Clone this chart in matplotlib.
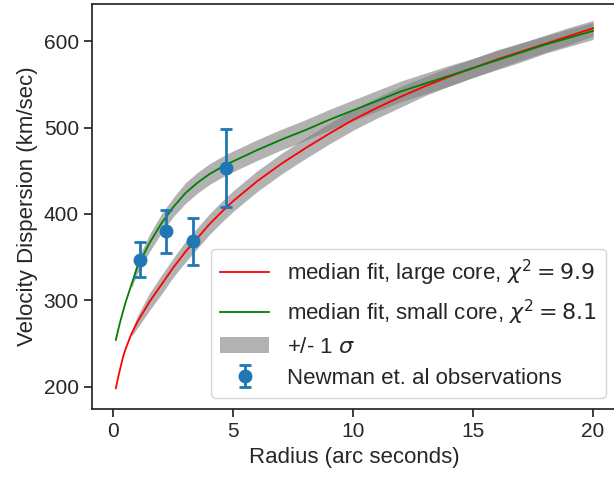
import numpy as np
import matplotlib
matplotlib.use("Agg")
import matplotlib.pyplot as plt


# ---------------------------------------------------------------------------
# Data

# model radius grid (arc seconds)
radius = [0.1, 0.2, 0.3, 0.4, 0.5, 0.75, 1, 1.5, 2, 2.5, 3, 3.5, 4, 4.5, 5, 6, 7, 8, 9,
          10, 11, 12, 13, 14, 15, 16, 17, 18, 19, 20]

# median fits (km/sec)
sig_large = [198, 211, 223, 234, 243, 261, 275, 298, 318, 338, 356, 372, 388, 402, 415, 438,
             458, 476, 493, 509, 523, 536, 548, 559, 569, 579, 588, 597, 606, 615]
sig_small = [254, 266, 277, 287, 297, 318, 339, 366, 389, 408, 424, 436, 446, 454, 461, 474,
             486, 497, 509, 520, 531, 542, 551, 560, 569, 578, 587, 596, 604, 612]

# +/- 1 sigma widths of the fits (0 where no band is drawn)
err_large = [0, 0, 0, 0, 0, 3, 7, 10, 11, 11, 12, 12, 12, 12, 12, 12,
             12, 12, 12, 12, 12, 12, 11, 11, 11, 11, 10, 10, 10, 9]
err_small = [0, 0, 0, 0, 0, 4, 8, 10, 11, 11, 12, 12, 12, 12, 12, 12,
             12, 12, 12, 12, 12, 12, 12, 12, 11, 11, 11, 10, 10, 10]

# Newman et al observations
obs_r   = [1.1, 2.2, 3.3, 4.7]
obs_sig = [347, 380, 368, 453]
obs_err = [20, 25, 27, 45]


# ---------------------------------------------------------------------------
# Style
plt.rcParams['font.family'] = ['Liberation Sans', 'DejaVu Sans']
plt.rcParams['font.size'] = 16
plt.rcParams['xtick.labelsize'] = 15
plt.rcParams['ytick.labelsize'] = 15
ink = '#262626'
for k in ['axes.edgecolor', 'axes.labelcolor', 'xtick.color', 'ytick.color', 'text.color']:
    plt.rcParams[k] = ink

fig = plt.figure(figsize=(6.14, 4.82), dpi=100)
ax = fig.add_axes([0.1498, 0.1515, 0.855, 0.840])

r = np.array(radius)
lo_l = np.array(sig_large) - np.array(err_large)
hi_l = np.array(sig_large) + np.array(err_large)
lo_s = np.array(sig_small) - np.array(err_small)
hi_s = np.array(sig_small) + np.array(err_small)

ax.plot(r, sig_large, color='red', lw=1.3, label=r'median fit, large core, $\chi^2 = 9.9$')
ax.plot(r, sig_small, color='green', lw=1.3, label=r'median fit, small core, $\chi^2 = 8.1$')
ax.fill_between(r, lo_l, hi_l, where=np.array(err_large) > 0, color='gray', alpha=0.6,
                lw=0, label=r'+/- 1 $\sigma$')
ax.fill_between(r, lo_s, hi_s, where=np.array(err_small) > 0, color='gray', alpha=0.6, lw=0)
ax.errorbar(obs_r, obs_sig, yerr=obs_err, fmt='o', color='#1f77b4', ms=9,
            elinewidth=2, capsize=4.5, capthick=2, label='Newman et. al observations')

ax.set_xlim(-0.895, 20.995)
ax.set_ylim(174, 643)
ax.set_xticks([0, 5, 10, 15, 20])
ax.set_yticks([200, 300, 400, 500, 600])
ax.set_xlabel('Radius (arc seconds)')
ax.set_ylabel('Velocity Dispersion (km/sec)')

for s in ax.spines.values():
    s.set_linewidth(1.25)
ax.tick_params(width=1.25, length=6)

ax.legend(loc='lower right', handlelength=2.2, labelspacing=0.45)

plt.savefig('out.png', dpi=100)
